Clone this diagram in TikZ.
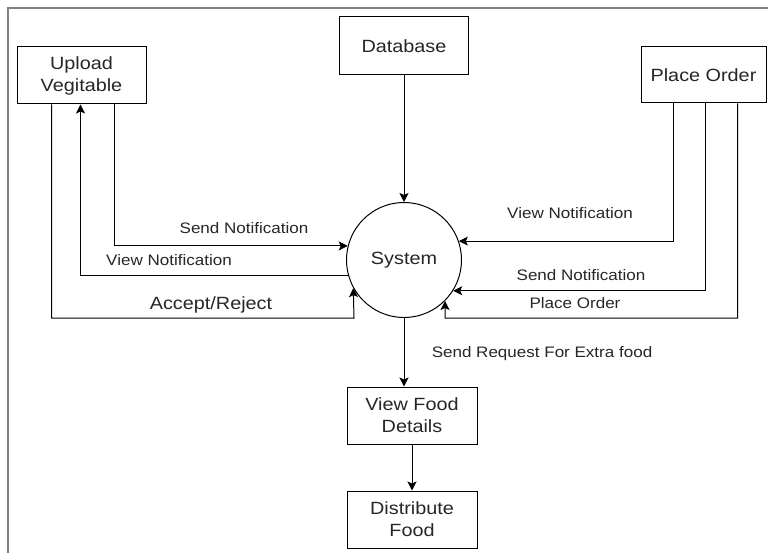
\documentclass[tikz,border=0pt]{standalone}
\usepackage{fontspec}
\setmainfont{Liberation Sans}[FakeStretch=1.12]
\usepackage{tikz}
\usetikzlibrary{arrows.meta}
\usetikzlibrary{calc}
\tikzstyle{every path}=[line width=1pt,line join=miter]
\tikzstyle{every node}=[text=black!85]
\tikzstyle{procbox}=[draw=black, rectangle, align=center, inner sep=0pt, font=\fontsize{17.7}{22}\selectfont]
\tikzstyle{flowlabel}=[inner sep=1pt, font=\fontsize{15.2}{18}\selectfont]
\tikzstyle{flow}=[-{Stealth[length=9pt,width=9pt,inset=2pt]}]

\begin{document}
\begin{tikzpicture}[x=1pt,y=-1pt]
\useasboundingbox (0,0) rectangle (768,553);
% frame
\draw [gray, line width=1.3pt] (8,553) -- (8,8) -- (768,8);

% boxes
\node [procbox, minimum width=129pt, minimum height=57pt] (upload) at (81.5,75.5) {Upload\\Vegitable};
\node [procbox, minimum width=129pt, minimum height=58pt] (db) at (404,46) {Database};
\node [procbox, minimum width=125pt, minimum height=56pt] (order) at (703.5,75) {Place Order};
\node [procbox, circle, minimum size=115pt] (sys) at (404,260) {System};
\node [procbox, minimum width=130pt, minimum height=57pt] (view) at (412,415.5) {View Food\\Details};
\node [procbox, minimum width=130pt, minimum height=57pt] (dist) at (412,519.5) {Distribute\\Food};

% left side
\coordinate (acc) at (354,318);
\draw [flow] ([xshift=35pt]upload.south west) |- (acc) -- (sys.209.6);
\draw [flow] (sys.196.2) -| ([xshift=64pt]upload.south west);
\draw [flow] ([xshift=98pt]upload.south west) |- (sys.166.9);
\node [flowlabel] (sendl) at (244,228) {Send Notification};
\node [flowlabel] (viewl) at (169,260) {View Notification};
\node [procbox, draw=none] (accl) at (211,305) {Accept/Reject};

% right side
\coordinate (po) at (445,318);
\draw [flow] ([xshift=33pt]order.south west) |- (sys.19.3);
\draw [flow] ([xshift=65pt]order.south west) |- (sys.328.5);
\draw [flow] ([xshift=97pt]order.south west) |- (po) -- (sys.315.5);
\node [flowlabel] (viewr) at (570,213) {View Notification};
\node [flowlabel] (sendr) at (581,275) {Send Notification};
\node [flowlabel] (placer) at (575,303) {Place Order};

% vertical flow
\draw [flow] (db.south) -- (sys.north);
\draw [flow] (sys.south) -- (sys.south |- view.north);
\draw [flow] (view.south) -- (dist.north);
\node [flowlabel] (reql) at (542,354) {Send Request For Extra food};
\end{tikzpicture}
\end{document}
